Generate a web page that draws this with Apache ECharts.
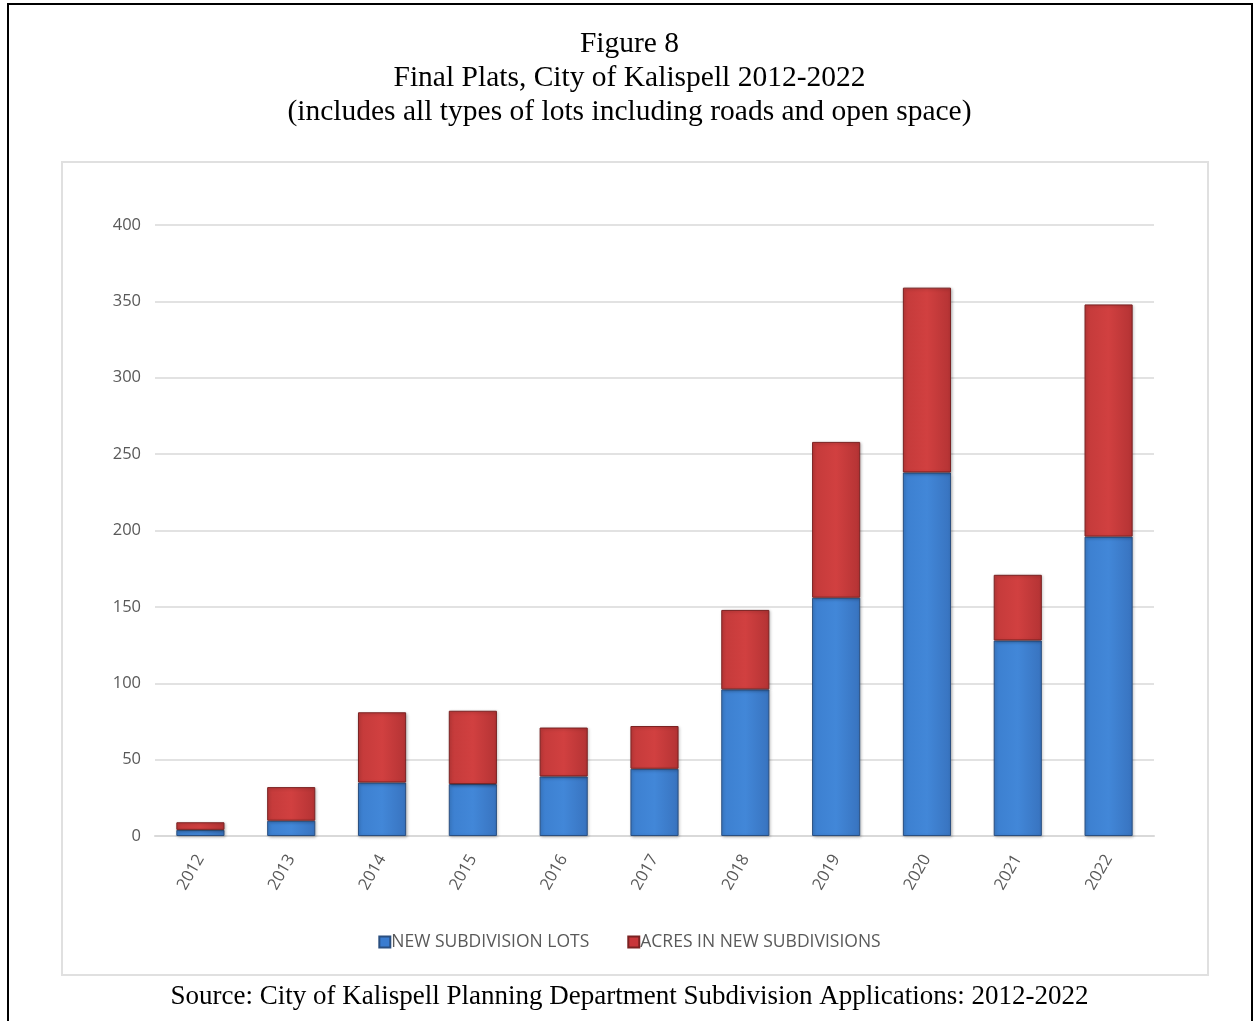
<!DOCTYPE html>
<html><head><meta charset="utf-8">
<script src="https://cdn.jsdelivr.net/npm/echarts@6/dist/echarts.min.js"></script>
<style>html,body{margin:0;padding:0;background:#fff}#c{width:1259px;height:1021px}</style>
</head><body><div id="c"></div>
<script>
const years = ['2012','2013','2014','2015','2016','2017','2018','2019','2020','2021','2022'];
const newLots = [4, 10, 35, 34, 39, 44, 96, 156, 238, 128, 196];
const acres = [5, 22, 46, 48, 32, 28, 52, 102, 121, 43, 152];
const yTicks = [0, 50, 100, 150, 200, 250, 300, 350, 400];

const chart = echarts.init(document.getElementById('c'), null, {renderer:'canvas'});
function grad(a, b, c) {
  return new echarts.graphic.LinearGradient(0, 0, 1, 0, [
    {offset:0, color:a},{offset:0.5, color:b},{offset:1, color:c}]);
}
chart.setOption({
  animation: false,
  backgroundColor: '#fff',
  title: [{
    text: 'Figure 8\nFinal Plats, City of Kalispell 2012-2022\n(includes all types of lots including roads and open space)',
    left: 'center', top: 22,
    textStyle: {fontFamily: 'Liberation Serif', fontSize: 29.5, fontWeight: 'normal', color: '#000', lineHeight: 34}
  },{
    text: 'Source: City of Kalispell Planning Department Subdivision Applications: 2012-2022',
    left: 'center', top: 978,
    textStyle: {fontFamily: 'Liberation Serif', fontSize: 27, fontWeight: 'normal', color: '#000'}
  }],
  graphic: [
    {type:'rect', shape:{x:8, y:4, width:1244, height:1030}, style:{fill:'none', stroke:'#000', lineWidth:2}, silent:true},
    {type:'rect', shape:{x:62, y:162, width:1146, height:813}, style:{fill:'none', stroke:'#e0e0e0', lineWidth:2}, silent:true}
  ],
  legend: {
    bottom: 65, left: 'center', itemGap: 38, itemWidth: 11, itemHeight: 11, icon: 'rect',
    textStyle: {fontFamily: 'Open Sans', fontSize: 17.5, color: '#595959', padding:[0,0,0,-4]},
    data: [{name:'NEW SUBDIVISION LOTS', itemStyle:{color:'#3a7cd0'}}, {name:'ACRES IN NEW SUBDIVISIONS', itemStyle:{color:'#c8363a'}}]
  },
  grid: {left: 155, right: 105, top: 225, bottom: 185},
  xAxis: {
    type: 'category', data: years,
    axisLine: {lineStyle: {color: '#d9d9d9', width: 2}},
    axisTick: {show: false},
    axisLabel: {rotate: 60, color: '#595959', fontFamily: 'Open Sans', fontSize: 16.5, margin: 20}
  },
  yAxis: {
    type: 'value', min: 0, max: 400, interval: 50,
    axisLine: {show: false}, axisTick: {show: false},
    splitLine: {lineStyle: {color: '#d9d9d9', width: 1.5}},
    axisLabel: {color: '#595959', fontFamily: 'Open Sans', fontSize: 16.5, margin: 14,
      formatter: v => yTicks.includes(v) ? String(v) : ''}
  },
  series: [{
    name: 'NEW SUBDIVISION LOTS', type: 'bar', stack: 't', data: newLots, barWidth: '53%',
    itemStyle: {color: grad('#3c7fcf','#4287d8','#3873bf'), borderColor: '#2a4f80', borderWidth: 1,
      shadowColor: 'rgba(0,0,0,0.25)', shadowBlur: 3, shadowOffsetX: 1, shadowOffsetY: 1}
  },{
    name: 'ACRES IN NEW SUBDIVISIONS', type: 'bar', stack: 't', data: acres, barWidth: '53%',
    itemStyle: {color: grad('#c33a3a','#d14040','#b43334'), borderColor: '#7a2222', borderWidth: 1,
      shadowColor: 'rgba(0,0,0,0.25)', shadowBlur: 3, shadowOffsetX: 1, shadowOffsetY: 1}
  }]
});
</script></body></html>
